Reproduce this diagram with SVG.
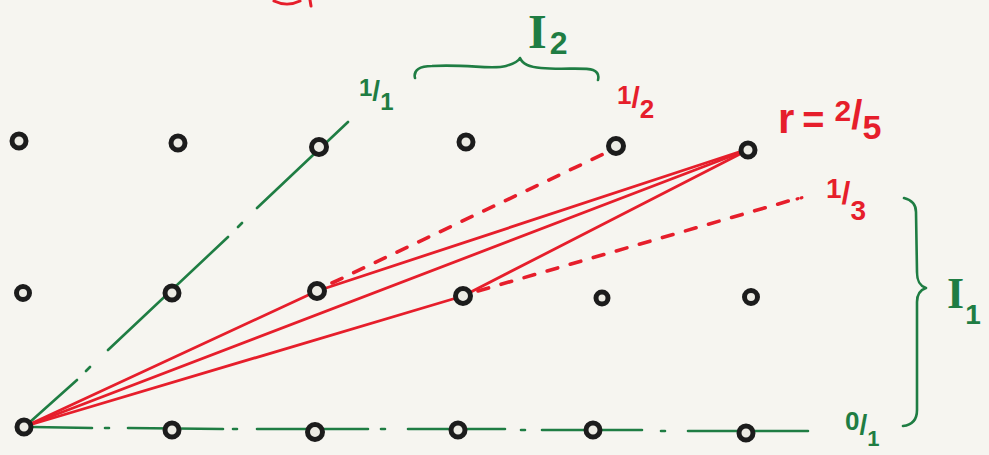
<svg xmlns="http://www.w3.org/2000/svg" width="989" height="455" viewBox="0 0 989 455">
<style>
.bg{fill:#f6f5f0}
.node circle{fill:#ecebe4;stroke:#1c1c1c;stroke-width:5}
.g{stroke:#1f7d43;stroke-width:2.6;fill:none;stroke-linecap:round;stroke-linejoin:round}
.r{stroke:#e61e2b;stroke-width:2.8;fill:none;stroke-linecap:round;stroke-linejoin:round}
.rd{stroke:#e61e2b;stroke-width:3.6;fill:none;stroke-linecap:round;stroke-dasharray:11 13}
.tg{fill:#1f7d43;font-family:"Liberation Sans",Arial,sans-serif;font-weight:bold}
.tr{fill:#e61e2b;font-family:"Liberation Sans",Arial,sans-serif;font-weight:bold}
.ts{font-family:"Liberation Serif","Times New Roman",serif;font-weight:bold}
</style>
<rect class="bg" x="0" y="0" width="989" height="455"/>
<path d="M274,1 C282,5 292,5 300,1 M310,0 L311,6" stroke="#e61e2b" stroke-width="3" fill="none" stroke-linecap="round"/>
<g id="connectors">
  <g id="green-axes">
    <path class="g" d="M30,422 L77,380 M86,371 L90,367 M108,350 L228,237 M238,227 L242,223 M257,208 L348,122"/>
    <path class="g" d="M33,427 L92,428 M105,428 L109,428 M128,428 L223,429 M233,429 L237,429 M257,429 L368,429 M381,429 L385,429 M408,429 L505,429 M521,430 L525,430 M542,430 L642,430 M661,431 L665,431 M688,431 L808,431"/>
  </g>
  <g id="red-lines">
    <polyline class="r" points="26,426 317,291 742,151"/>
    <line class="r" x1="26" y1="426" x2="742" y2="152"/>
    <polyline class="r" points="26,426 463,296 742,153"/>
    <line class="rd" x1="332" y1="283" x2="612" y2="150"/>
    <line class="rd" x1="478" y1="291" x2="792" y2="200"/>
    <path d="M797,199 L798,198.6 M801,198 L802,197.6" stroke="#e61e2b" stroke-width="3" stroke-linecap="round"/>
  </g>
  <g id="braces">
    <path class="g" d="M415,78 C413,70 420,66 432,66 C468,64 492,70 506,66 C513,64 518,62 520,58 C522,63 528,67 541,68 C562,70 585,67 593,70 C598,72 599,76 598,80"/>
    <path class="g" d="M904,198 C912,200 916,204 916,212 L917,272 C917,282 920,286 926,288 C920,290 917,294 917,302 L917,410 C917,420 912,425 903,426"/>
  </g>
</g>
<g id="n-0-2" class="node"><circle cx="19" cy="141" r="7"/></g>
<g id="n-1-2" class="node"><circle cx="178" cy="143" r="7"/></g>
<g id="n-2-2" class="node"><circle cx="319" cy="147" r="7.5"/></g>
<g id="n-3-2" class="node"><circle cx="466" cy="142" r="7"/></g>
<g id="n-4-2" class="node"><circle cx="616" cy="146" r="7.5"/></g>
<g id="n-5-2" class="node"><circle cx="748" cy="150" r="7"/></g>
<g id="n-0-1" class="node"><circle cx="23" cy="293" r="6.5"/></g>
<g id="n-1-1" class="node"><circle cx="172" cy="293" r="7"/></g>
<g id="n-2-1" class="node"><circle cx="317" cy="291" r="7.5"/></g>
<g id="n-3-1" class="node"><circle cx="463" cy="296" r="7.5"/></g>
<g id="n-4-1" class="node"><circle cx="602" cy="298" r="6"/></g>
<g id="n-5-1" class="node"><circle cx="751" cy="297" r="6.5"/></g>
<g id="n-0-0" class="node"><circle cx="24" cy="427" r="7"/></g>
<g id="n-1-0" class="node"><circle cx="172" cy="430" r="7"/></g>
<g id="n-2-0" class="node"><circle cx="315" cy="432" r="7.5"/></g>
<g id="n-3-0" class="node"><circle cx="458" cy="430" r="7"/></g>
<g id="n-4-0" class="node"><circle cx="593" cy="430" r="7"/></g>
<g id="n-5-0" class="node"><circle cx="746" cy="433" r="7"/></g>
<g id="labels">
  <text class="tg" x="359" y="96" font-size="24"><tspan>1</tspan><tspan font-size="28" dy="4">/</tspan><tspan dy="10">1</tspan></text>
  <text class="tg ts" x="528" y="48" font-size="48">I<tspan font-size="32" dx="3" dy="6" class="tg">2</tspan></text>
  <text class="tr" x="617" y="104" font-size="26"><tspan>1</tspan><tspan font-size="30" dy="4">/</tspan><tspan dy="10">2</tspan></text>
  <text class="tr" x="778" y="133" font-size="42">r<tspan dx="8" font-size="38">=</tspan><tspan dx="10" font-size="30" dy="-12">2</tspan><tspan font-size="40" dy="8">/</tspan><tspan font-size="34" dy="10">5</tspan></text>
  <text class="tr" x="826" y="198" font-size="28"><tspan>1</tspan><tspan font-size="32" dy="6">/</tspan><tspan dy="16">3</tspan></text>
  <text class="tg ts" x="947" y="308" font-size="44">I<tspan font-size="28" dx="1" dy="16" class="tg">1</tspan></text>
  <text class="tg" x="845" y="430" font-size="26"><tspan>0</tspan><tspan font-size="28" dy="4">/</tspan><tspan font-size="22" dy="12">1</tspan></text>
</g>
</svg>
